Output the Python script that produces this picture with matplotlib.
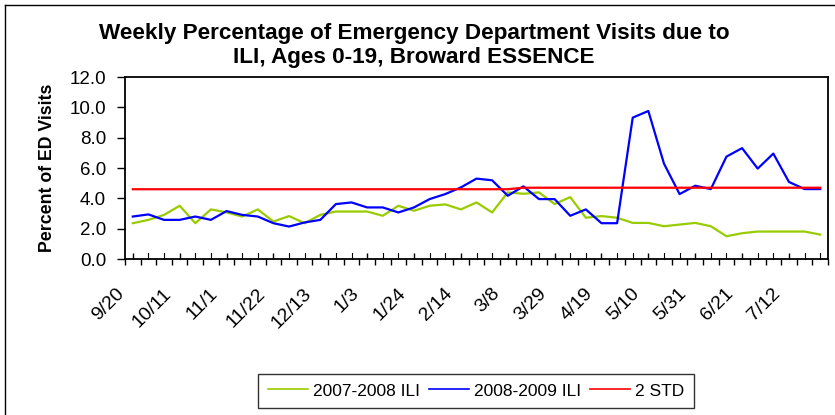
import numpy as np
import matplotlib
matplotlib.use('Agg')
import matplotlib.pyplot as plt
import matplotlib.transforms as mtransforms
from matplotlib.lines import Line2D
from matplotlib.ticker import FormatStrFormatter, FixedLocator

matplotlib.rcParams['font.family'] = ['Liberation Sans', 'DejaVu Sans']

# Weekly % of ED visits due to ILI
ili_0708 = [2.36, 2.58, 2.91, 3.51, 2.36, 3.27, 3.07, 2.80, 3.27, 2.47,
            2.83, 2.36, 2.91, 3.13, 3.13, 3.13, 2.85, 3.51, 3.18, 3.51,
            3.60, 3.27, 3.73, 3.07, 4.39, 4.30, 4.39, 3.62, 4.08, 2.72,
            2.83, 2.72, 2.38, 2.38, 2.16, 2.27, 2.38, 2.16, 1.50, 1.70,
            1.81, 1.81, 1.81, 1.81, 1.61]
ili_0809 = [2.80, 2.94, 2.58, 2.58, 2.80, 2.58, 3.16, 2.91, 2.80, 2.36,
            2.14, 2.41, 2.58, 3.62, 3.73, 3.40, 3.40, 3.07, 3.40, 3.95,
            4.28, 4.72, 5.30, 5.19, 4.17, 4.79, 3.95, 3.95, 2.85, 3.27,
            2.36, 2.36, 9.32, 9.76, 6.29, 4.28, 4.83, 4.61, 6.75, 7.31,
            5.96, 6.95, 5.08, 4.61, 4.61]
two_std = [4.6] * 25 + [4.7] * 20

tick_labels = ['9/20', '10/11', '11/1', '11/22', '12/13', '1/3', '1/24', '2/14',
               '3/8', '3/29', '4/19', '5/10', '5/31', '6/21', '7/12']

W, H = 835, 415
fig = plt.figure(figsize=(W / 100, H / 100), dpi=100)
fig.patch.set_facecolor('white')

# plot area in pixels: left 125, right 828, top 77, bottom 259
ax = fig.add_axes([125 / W, 1 - 259 / H, 703 / W, 182 / H])

x = np.arange(len(ili_0708))
ax.plot(x, ili_0708, color='#99CC00', lw=1.6, label='2007-2008 ILI')
ax.plot(x, ili_0809, color='#0000FF', lw=1.6, label='2008-2009 ILI')
ax.plot(x, two_std, color='#FF0000', lw=1.6, label='2 STD')

ax.set_xlim(-0.5, len(x) - 0.5)
ax.set_ylim(0, 12)
ax.set_yticks(np.arange(0, 12.1, 2))
ax.yaxis.set_major_formatter(FormatStrFormatter('%.1f'))
ax.tick_params(axis='y', direction='out', length=5.5, width=1, pad=8, labelsize=13.5)

# labels every 3 weeks, small inward ticks at each week, outward ticks between weeks
ax.set_xticks(x[::3])
ax.set_xticklabels(tick_labels, rotation=45, ha='right', va='center', rotation_mode='anchor')
ax.xaxis.set_minor_locator(FixedLocator(np.arange(-0.5, len(x), 1)))
ax.tick_params(axis='x', which='major', direction='in', length=4, width=1, pad=23, labelsize=14)
ax.tick_params(axis='x', which='minor', direction='out', length=4.5, width=1)
shift = mtransforms.ScaledTranslation(-0.11, 0, fig.dpi_scale_trans)
for lab in ax.get_xticklabels():
    lab.set_transform(lab.get_transform() + shift)
for xi in x:
    if xi % 3:
        ax.plot([xi, xi], [0, 0.38], color='black', lw=0.8, clip_on=False)

for s in ax.spines.values():
    s.set_linewidth(1.3)
    s.set_color('black')

ax.set_ylabel('Percent of ED Visits', fontsize=12.8, fontweight='bold')
ax.yaxis.set_label_coords(56 / W, 1 - 168 / H, transform=fig.transFigure)

fig.text(414 / W, 1 - 39 / H, 'Weekly Percentage of Emergency Department Visits due to',
         ha='center', va='baseline', fontsize=16.2, fontweight='bold')
fig.text(414 / W, 1 - 63 / H, 'ILI, Ages 0-19, Broward ESSENCE',
         ha='center', va='baseline', fontsize=16.2, fontweight='bold')

leg = ax.legend(loc='center', bbox_to_anchor=(476 / W, 1 - 391 / H),
                bbox_transform=fig.transFigure, ncol=3, fontsize=12.5,
                frameon=True, fancybox=False, handlelength=2.3,
                handletextpad=0.3, columnspacing=0.5, borderpad=0.55)
leg.get_frame().set_edgecolor('black')
leg.get_frame().set_linewidth(1)
for h in leg.get_lines():
    h.set_linewidth(1.2)

# outer chart border (left and top visible)
fig.add_artist(Line2D([5 / W, 5 / W], [0, 1 - 5 / H], transform=fig.transFigure, color='black', lw=1))
fig.add_artist(Line2D([5 / W, 1], [1 - 5 / H, 1 - 5 / H], transform=fig.transFigure, color='black', lw=1))

plt.savefig('out.png', dpi=100)
